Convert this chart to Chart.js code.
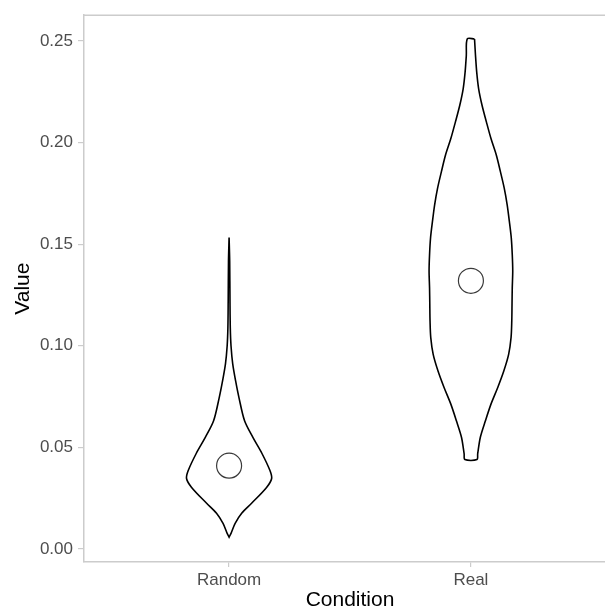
<!DOCTYPE html>
<html>
<head>
<meta charset="utf-8">
<script src="https://cdn.jsdelivr.net/npm/chart.js@4/dist/chart.umd.min.js"></script>
<style>
  html, body { margin: 0; padding: 0; background: #ffffff; overflow: hidden; }
  #wrap { width: 605px; height: 612px; overflow: hidden; }
</style>
</head>
<body>
<div id="wrap"><canvas id="c" width="620" height="612"></canvas></div>
<script>
// ---- data ----
const categories = ['Random', 'Real'];

// violin outline: value (y) and half-width (in category units), top to bottom
const randomValues    = [0.1533, 0.1416, 0.1220, 0.1087, 0.0999, 0.0911, 0.0827, 0.0744, 0.0631, 0.0548, 0.0470, 0.0386, 0.0347, 0.0303, 0.0225, 0.0176, 0.0126, 0.0077, 0.0058];
const randomHalfWidth = [0.000, 0.0025, 0.0037, 0.005, 0.008, 0.015, 0.027, 0.041, 0.064, 0.099, 0.136, 0.169, 0.176, 0.155, 0.093, 0.052, 0.025, 0.008, 0.000];

const realValues    = [0.2510, 0.2429, 0.2347, 0.2265, 0.2184, 0.2102, 0.2020, 0.1939, 0.1857, 0.1775, 0.1694, 0.1612, 0.1530, 0.1449, 0.1367, 0.1285, 0.1203, 0.1122, 0.1040, 0.0958, 0.0876, 0.0795, 0.0713, 0.0631, 0.0550, 0.0468, 0.0440];
const realHalfWidth = [0.015, 0.019, 0.024, 0.032, 0.046, 0.064, 0.083, 0.105, 0.122, 0.138, 0.150, 0.159, 0.167, 0.171, 0.173, 0.171, 0.170, 0.169, 0.166, 0.156, 0.136, 0.111, 0.083, 0.060, 0.039, 0.028, 0.025];

const meanValues = [0.041, 0.132];

const yTicks = [0.00, 0.05, 0.10, 0.15, 0.20, 0.25];
const yTickLabels = ['0.00', '0.05', '0.10', '0.15', '0.20', '0.25'];

// ---- build outlines ----
function outline(pos, vals, hw) {
  const pts = [];
  for (let i = 0; i < vals.length; i++) pts.push({ x: pos + hw[i], y: vals[i] });
  for (let i = vals.length - 1; i >= 0; i--) pts.push({ x: pos - hw[i], y: vals[i] });
  pts.push({ x: pos + hw[0], y: vals[0] });
  return pts;
}

const violinStyle = {
  showLine: true,
  borderColor: '#000000',
  borderWidth: 1.6,
  backgroundColor: 'rgba(0,0,0,0)',
  fill: false,
  pointRadius: 0,
  pointHoverRadius: 0,
  tension: 0.3
};

const topBorder = {
  id: 'topBorder',
  afterDraw(chart) {
    const { ctx, chartArea } = chart;
    ctx.save();
    ctx.strokeStyle = '#cccccc';
    ctx.lineWidth = 1.5;
    ctx.beginPath();
    ctx.moveTo(chartArea.left, chartArea.top);
    ctx.lineTo(chartArea.right, chartArea.top);
    ctx.lineTo(chartArea.right, chartArea.bottom);
    ctx.stroke();
    ctx.restore();
  }
};

const FONT = "'Liberation Sans', Arial, Helvetica, sans-serif";

new Chart(document.getElementById('c'), {
  type: 'scatter',
  data: {
    datasets: [
      Object.assign({ label: categories[0], data: outline(1, randomValues, randomHalfWidth) }, violinStyle),
      Object.assign({ label: categories[1], data: outline(2, realValues, realHalfWidth) }, violinStyle),
      {
        label: 'mean',
        data: meanValues.map((v, i) => ({ x: i + 1, y: v })),
        showLine: false,
        pointStyle: 'circle',
        pointRadius: 12.5,
        pointHoverRadius: 12.5,
        borderColor: '#3a3a3a',
        borderWidth: 1.2,
        backgroundColor: 'rgba(0,0,0,0)'
      }
    ]
  },
  options: {
    responsive: false,
    devicePixelRatio: 1,
    animation: false,
    events: [],
    layout: { autoPadding: false, padding: { top: 13, left: 0, right: 4, bottom: 0 } },
    plugins: { legend: { display: false }, tooltip: { enabled: false } },
    scales: {
      x: {
        type: 'linear',
        min: 0.4,
        max: 2.6,
        afterBuildTicks(scale) { scale.ticks = categories.map((c, i) => ({ value: i + 1 })); },
        afterFit(scale) { scale.height = 50; },
        ticks: {
          callback(v) { return categories[Math.round(v) - 1]; },
          color: '#4d4d4d',
          font: { family: FONT, size: 17 },
          padding: 3,
          maxRotation: 0,
          autoSkip: false
        },
        grid: { drawOnChartArea: false, drawTicks: true, tickLength: 5, color: '#cccccc', lineWidth: 1.2 },
        border: { display: true, color: '#cccccc', width: 1.5 },
        title: {
          display: true,
          text: 'Condition',
          color: '#000000',
          font: { family: FONT, size: 21, lineHeight: 1.0 },
          padding: { top: 0, bottom: 1 }
        }
      },
      y: {
        type: 'linear',
        min: -0.0064,
        max: 0.2627,
        afterBuildTicks(scale) { scale.ticks = yTicks.map(v => ({ value: v })); },
        afterFit(scale) { scale.width = 84; },
        ticks: {
          callback(v) { const i = yTicks.indexOf(v); return i >= 0 ? yTickLabels[i] : ''; },
          color: '#4d4d4d',
          font: { family: FONT, size: 17 },
          padding: 5
        },
        grid: { drawOnChartArea: false, drawTicks: true, tickLength: 6, color: '#cccccc', lineWidth: 1.2 },
        border: { display: true, color: '#cccccc', width: 1.5 },
        title: {
          display: true,
          text: 'Value',
          color: '#000000',
          font: { family: FONT, size: 21, lineHeight: 1.2 },
          padding: { top: 11, bottom: 0 }
        }
      }
    }
  },
  plugins: [topBorder]
});
</script>
</body>
</html>
